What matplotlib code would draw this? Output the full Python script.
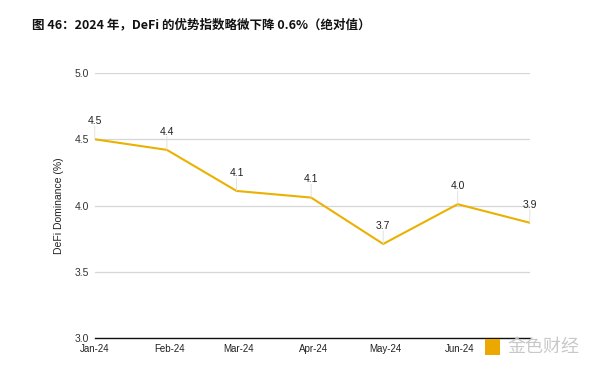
import numpy as np
import pandas as pd
import matplotlib
matplotlib.use("Agg")
import matplotlib.pyplot as plt
import matplotlib.dates as mdates
from matplotlib.patches import Rectangle

plt.rcParams['font.family'] = ['Liberation Sans', 'Noto Sans CJK SC', 'DejaVu Sans']

# data
dates = pd.to_datetime(["2024-01-01", "2024-01-31", "2024-02-29", "2024-03-31",
                        "2024-04-30", "2024-05-31", "2024-06-30"])
dominance = [4.50, 4.42, 4.11, 4.06, 3.71, 4.01, 3.87]
point_labels = ["4.5", "4.4", "4.1", "4.1", "3.7", "4.0", "3.9"]
tick_dates = pd.to_datetime(["2024-01-01", "2024-02-01", "2024-03-01",
                             "2024-04-01", "2024-05-01", "2024-06-01"])
tick_labels = ["Jan-24", "Feb-24", "Mar-24", "Apr-24", "May-24", "Jun-24"]
y_ticks = [3.0, 3.5, 4.0, 4.5, 5.0]

title = "图 46：2024 年，DeFi 的优势指数略微下降 0.6%（绝对值）"
line_color = "#EBB100"

fig = plt.figure(figsize=(6, 3.68), dpi=100)
ax = fig.add_axes([0.158, 0.0815, 0.725, 0.72])

ax.plot(dates, dominance, color=line_color, lw=1.5, zorder=3)

# value labels with thin leader lines
for d, v, lab in zip(dates, dominance, point_labels):
    ax.annotate(lab, xy=(d, v), xytext=(0, 9.5), textcoords="offset points",
                ha="center", va="bottom", fontsize=7.5, color="#222222")
    ax.annotate("", xy=(d, v), xytext=(0, 9.5), textcoords="offset points",
                arrowprops=dict(arrowstyle="-", color="#dddddd", lw=0.6,
                                shrinkA=0, shrinkB=0))

ax.set_xlim(dates[0], dates[-1])
ax.set_ylim(3.0, 5.0)
ax.set_yticks(y_ticks)
ax.set_yticklabels([f"{t:.1f}" for t in y_ticks], fontsize=7.5, color="#333333")
ax.set_xticks(tick_dates)
ax.set_xticklabels(tick_labels, fontsize=7, color="#222222")
ax.tick_params(axis="both", length=0)
ax.tick_params(axis="x", pad=4.5)
ax.tick_params(axis="y", pad=4)

ax.grid(axis="y", color="#d6d6d6", lw=0.9)
ax.grid(axis="x", visible=False)
for s in ["top", "right", "left"]:
    ax.spines[s].set_visible(False)
ax.spines["bottom"].set_color("#111111")
ax.spines["bottom"].set_linewidth(1.0)

ax.set_ylabel("DeFi Dominance (%)", fontsize=7.5, color="#222222", labelpad=8)

fig.text(0.053, 0.932, title, fontsize=9, fontweight="bold",
         family=["Noto Sans CJK SC", "DejaVu Sans"], color="#111111", va="center")

# watermark
fig.patches.append(Rectangle((0.808, 0.035), 0.026, 0.045, transform=fig.transFigure,
                             facecolor="#EBA800", edgecolor="none"))
fig.text(0.845, 0.057, "金色财经", fontsize=13, color="#c8c8c8",
         family=["Noto Sans CJK SC"], va="center")

fig.savefig("out.png", dpi=100, facecolor="white")
